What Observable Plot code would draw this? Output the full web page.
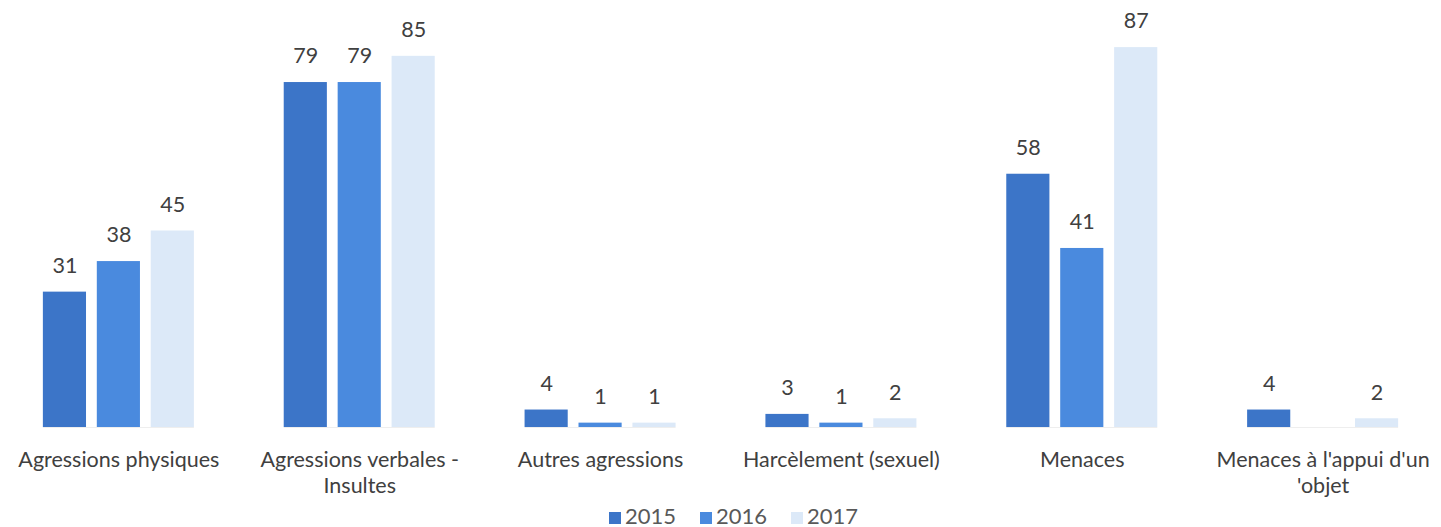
<!DOCTYPE html>
<html><head><meta charset="utf-8">
<script src="https://cdn.jsdelivr.net/npm/d3@7"></script>
<script src="https://cdn.jsdelivr.net/npm/@observablehq/plot@0.6"></script>
<style>
body{margin:0;background:#fff;font-family:Lato,"Open Sans",sans-serif;}
#legend{display:flex;justify-content:center;gap:24px;font-size:22px;color:#595959;height:22px;line-height:22px;margin-left:26px}
#legend span.sw{display:inline-block;width:12px;height:12px;margin-right:4px;vertical-align:0px}
</style></head>
<body><div id="chart"></div><div id="legend"></div>
<script>
const categories = ["Agressions physiques","Agressions verbales -\nInsultes","Autres agressions","Harcèlement (sexuel)","Menaces","Menaces à l'appui d'un\n'objet"];
const years = ["2015","2016","2017"];
const v2015 = [31,79,4,3,58,4];
const v2016 = [38,79,1,1,41,null];
const v2017 = [45,85,1,2,87,2];
const colors = ["#3c75c8","#4a8ade","#dce9f8"];

const series = [v2015,v2016,v2017];
const data = [];
categories.forEach((c,i)=>years.forEach((y,j)=>{ if(series[j][i]!=null) data.push({cat:c,year:y,value:series[j][i]}); }));

const chart = Plot.plot({
  width:1441, height:505,
  marginLeft:0, marginRight:0, marginTop:34, marginBottom:78,
  style:{fontFamily:"Lato, 'Open Sans', sans-serif", color:"#404040"},
  fx:{domain:categories, paddingInner:0.373, paddingOuter:0.178, round:false, label:null},
  x:{domain:years, paddingInner:0.2, paddingOuter:0, round:false, axis:null},
  y:{domain:[0,90], axis:null},
  color:{domain:years, range:colors},
  marks:[
    Plot.ruleY([0],{stroke:"#eeeeee"}),
    Plot.barY(data,{fx:"cat",x:"year",y:"value",fill:"year"}),
    Plot.text(data,{fx:"cat",x:"year",y:"value",text:d=>String(d.value),dy:-26,fontSize:21.5,fill:"#404040"}),
    Plot.axisFx({anchor:"bottom",tickSize:0,tickPadding:20,fontSize:21.5,lineHeight:1.25,fill:"#404040",label:null})
  ]
});
document.getElementById("chart").appendChild(chart);
const lg = document.getElementById("legend");
years.forEach((y,i)=>{const s=document.createElement("div");s.innerHTML=`<span class="sw" style="background:${colors[i]}"></span>${y}`;lg.appendChild(s);});
</script></body></html>
